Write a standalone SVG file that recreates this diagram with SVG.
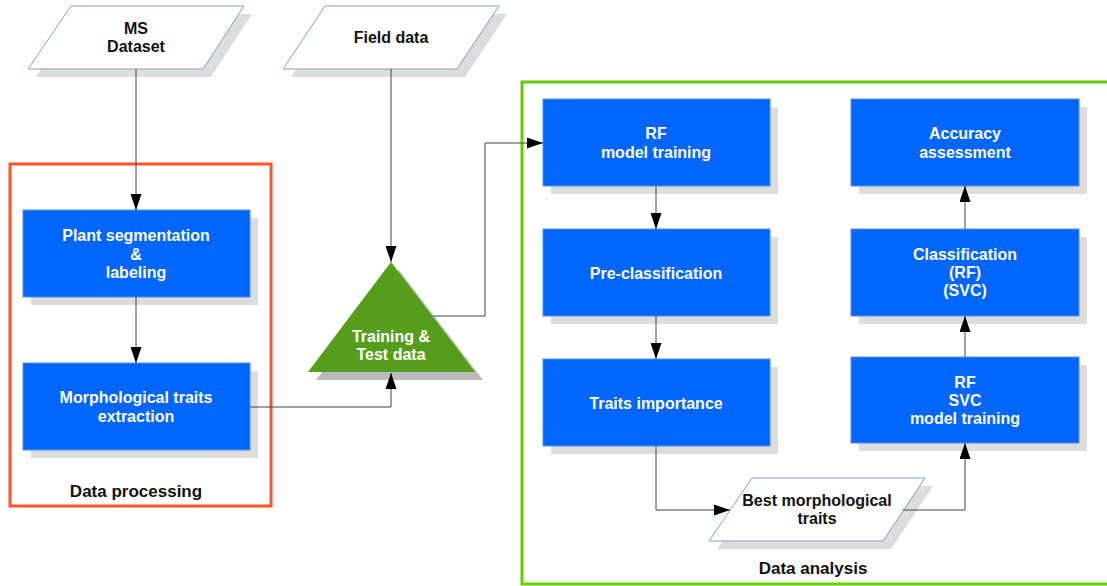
<svg xmlns="http://www.w3.org/2000/svg" width="1107" height="586" viewBox="0 0 1107 586">
<style>
text{font-family:"Liberation Sans",Arial,sans-serif;font-weight:bold;font-size:16px;text-anchor:middle}
.w{fill:#fff}
.k{fill:#111}
.box{fill:#0066ff;stroke:#5b8fd9;stroke-width:1}
.sh{fill:#dddddd}
.para{fill:#fff;stroke:#7fa0cc;stroke-width:1}
.con{fill:none;stroke:#444;stroke-width:1}
.lbl{font-size:17px}
</style>
<defs>
<marker id="ah" markerUnits="userSpaceOnUse" markerWidth="17" markerHeight="11" refX="16" refY="5.5" orient="auto">
<path d="M0,0 L16,5.5 L0,11 z" fill="#000"/>
</marker>
</defs>

<g id="group-processing">
<rect x="10" y="164" width="261" height="342" fill="none" stroke="#ff5429" stroke-width="3"/>
<text class="k lbl" x="136" y="497">Data processing</text>
</g>
<g id="group-analysis">
<rect x="522" y="82" width="600" height="502" fill="none" stroke="#66cc00" stroke-width="3"/>
<text class="k lbl" x="813" y="574">Data analysis</text>
</g>

<g id="ms-dataset">
<polygon class="sh" points="79,14 252,14 211,77 36,77"/>
<polygon class="para" points="71,6 244,6 203,69 28,69"/>
<text class="k" x="136" y="34">MS</text>
<text class="k" x="136" y="52">Dataset</text>
</g>

<g id="field-data">
<polygon class="sh" points="333,14 507,14 465,77 291,77"/>
<polygon class="para" points="325,6 499,6 457,69 283,69"/>
<text class="k" x="391" y="43">Field data</text>
</g>

<g id="plant-seg">
<rect class="sh" x="31" y="218" width="227" height="87"/>
<rect class="box" x="23" y="210" width="227" height="87"/>
<text class="w" x="136" y="241">Plant segmentation</text>
<text class="w" x="136" y="260">&amp;</text>
<text class="w" x="136" y="278">labeling</text>
</g>

<g id="morph-traits">
<rect class="sh" x="31" y="371" width="227" height="87"/>
<rect class="box" x="23" y="363" width="227" height="87"/>
<text class="w" x="136" y="403">Morphological traits</text>
<text class="w" x="136" y="422">extraction</text>
</g>

<g id="training-test">
<polygon fill="#bbbbbb" points="399,270 483,380 316,380"/>
<polygon fill="#579d1c" points="391,262 475,372 308,372"/>
<text class="w" x="391" y="342">Training &amp;</text>
<text class="w" x="391" y="360">Test data</text>
</g>

<g id="rf-model">
<rect class="sh" x="551" y="107" width="227" height="87"/>
<rect class="box" x="543" y="99" width="227" height="87"/>
<text class="w" x="656" y="139">RF</text>
<text class="w" x="656" y="158">model training</text>
</g>

<g id="pre-class">
<rect class="sh" x="551" y="237" width="227" height="87"/>
<rect class="box" x="543" y="229" width="227" height="87"/>
<text class="w" x="656" y="279">Pre-classification</text>
</g>

<g id="traits-importance">
<rect class="sh" x="551" y="367" width="227" height="87"/>
<rect class="box" x="543" y="359" width="227" height="87"/>
<text class="w" x="656" y="409">Traits importance</text>
</g>

<g id="best-traits">
<polygon class="sh" points="760,486 933,486 891,549 717,549"/>
<polygon class="para" points="752,478 925,478 883,541 709,541"/>
<text class="k" x="817" y="506">Best morphological</text>
<text class="k" x="817" y="524">traits</text>
</g>

<g id="accuracy">
<rect class="sh" x="859" y="107" width="228" height="87"/>
<rect class="box" x="851" y="99" width="228" height="87"/>
<text class="w" x="965" y="139">Accuracy</text>
<text class="w" x="965" y="158">assessment</text>
</g>

<g id="classification">
<rect class="sh" x="859" y="237" width="228" height="87"/>
<rect class="box" x="851" y="229" width="228" height="87"/>
<text class="w" x="965" y="260">Classification</text>
<text class="w" x="965" y="278">(RF)</text>
<text class="w" x="965" y="296">(SVC)</text>
</g>

<g id="rf-svc-training">
<rect class="sh" x="859" y="365" width="228" height="86"/>
<rect class="box" x="851" y="357" width="228" height="86"/>
<text class="w" x="965" y="388">RF</text>
<text class="w" x="965" y="406">SVC</text>
<text class="w" x="965" y="424">model training</text>
</g>

<g id="connectors">
<path class="con" d="M136,69 V210" marker-end="url(#ah)"/>
<path class="con" d="M136,297 V363" marker-end="url(#ah)"/>
<path class="con" d="M391,69 V262" marker-end="url(#ah)"/>
<path class="con" d="M250,407 H391 V373" marker-end="url(#ah)"/>
<path class="con" d="M433,316 H485 V143 H543" marker-end="url(#ah)"/>
<path class="con" d="M656,186 V229" marker-end="url(#ah)"/>
<path class="con" d="M656,316 V359" marker-end="url(#ah)"/>
<path class="con" d="M656,446 V510 H730" marker-end="url(#ah)"/>
<path class="con" d="M903,510 H965 V443" marker-end="url(#ah)"/>
<path class="con" d="M965,357 V316" marker-end="url(#ah)"/>
<path class="con" d="M965,229 V186" marker-end="url(#ah)"/>
</g>
</svg>
